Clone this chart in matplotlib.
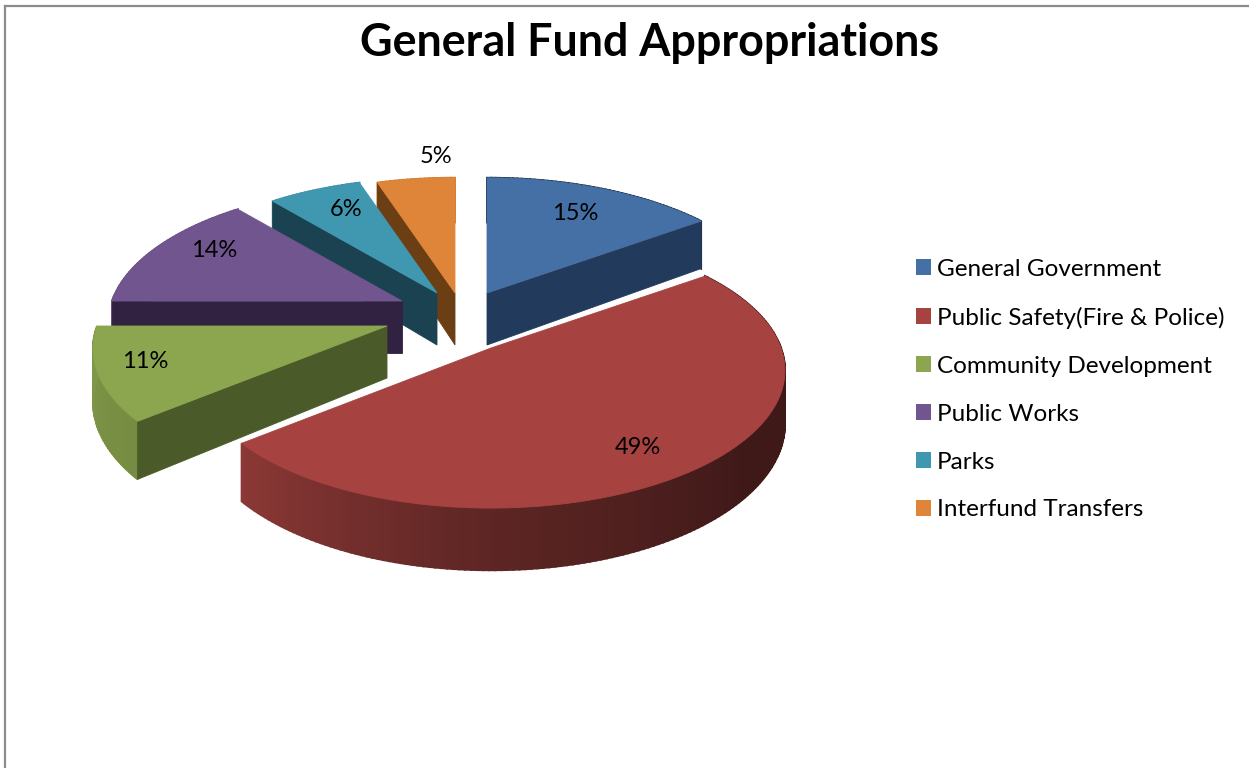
import numpy as np
import matplotlib
matplotlib.use("Agg")
import matplotlib.pyplot as plt
from matplotlib.patches import Patch, Polygon

categories = ["General Government", "Public Safety(Fire & Police)", "Community Development",
              "Public Works", "Parks", "Interfund Transfers"]
shares = [15, 49, 11, 14, 6, 5]
title = "General Fund Appropriations"

top_colors = ["#4470A6", "#A64340", "#8BA64E", "#71558E", "#4098B0", "#DE8539"]
side_colors = ["#223A5B", "#6E2A27", "#4A5A28", "#302240", "#1A4250", "#6B3E14"]

# Pie layout in pixel-like units: flattened disc with a slight perspective.
PIE_X, PIE_Y = 487, 293
RX, RY = 290, 134
PERSPECTIVE = 0.163
DEPTH = 52
explode = [(0, 0), (4, 55), (-100, 33), (-85, 8), (-50, 0), (-32, 0)]
draw_order = [5, 4, 0, 3, 2, 1]
label_spots = [(0.74, 0.5), (0.80, 0.52), (0.84, 0.55), (0.80, 0.6), (0.78, 0.6), (1.22, 0.8)]

plt.rcParams["font.family"] = ["Lato", "DejaVu Sans"]
fig = plt.figure(figsize=(12.49, 7.68), dpi=100)
ax = fig.add_axes([0, 0, 1, 1])
ax.set_xlim(0, 1249)
ax.set_ylim(768, 0)
ax.axis("off")


def project(theta, radius, center, drop=0.0):
    """Map a polar position on the disc to the page; theta runs clockwise from the top."""
    u = radius * np.sin(theta)
    v = -radius * np.cos(theta)
    s = 1.0 / (1.0 - PERSPECTIVE * v)
    return center[0] + RX * u * s, center[1] + RY * v * s + drop * s


def shade(color, factor):
    rgb = np.array(matplotlib.colors.to_rgb(color))
    return tuple(np.clip(rgb * factor, 0, 1))


def arc_wall_factor(theta):
    # Outer wall is lit from the left and falls into shadow on the right.
    return np.interp(np.degrees(theta), [130, 180, 230, 270], [0.38, 0.56, 0.84, 0.92])


def quad(points, color, z, width=0.6):
    ax.add_patch(Polygon(points, closed=True, facecolor=color, edgecolor=color,
                         linewidth=width, zorder=z))


edges = np.concatenate([[0], np.cumsum(shares)]) / sum(shares) * 2 * np.pi

z = 2.0
for i in draw_order:
    a0, a1 = edges[i], edges[i + 1]
    center = (PIE_X + explode[i][0], PIE_Y + explode[i][1])
    arc = np.linspace(a0, a1, max(int(np.degrees(a1 - a0)), 4) + 1)

    # Outer wall, built from short strips so the shading can vary along the arc.
    for t0, t1 in zip(arc[:-1], arc[1:]):
        f = arc_wall_factor(0.5 * (t0 + t1))
        pts = [project(t0, 1, center), project(t1, 1, center),
               project(t1, 1, center, DEPTH), project(t0, 1, center, DEPTH)]
        quad(pts, shade(top_colors[i], f), z, width=1.4)
        z += 0.0001
    z += 0.01

    # Radial cut faces, only where the cut looks toward the viewer.
    for t, sign in ((a0, -1), (a1, 1)):
        if sign * np.sin(t) > 1e-6:
            pts = [project(t, 0, center), project(t, 1, center),
                   project(t, 1, center, DEPTH), project(t, 0, center, DEPTH)]
            quad(pts, side_colors[i], z)
    z += 0.01

    # Top face.
    rim = [project(t, 1, center) for t in arc]
    quad([project(0, 0, center)] + rim, top_colors[i], z)
    z += 0.01

# Percentage labels sit on their slices; the last one is placed just outside.
for i, (value, (radial, along)) in enumerate(zip(shares, label_spots)):
    center = (PIE_X + explode[i][0], PIE_Y + explode[i][1])
    theta = edges[i] + along * (edges[i + 1] - edges[i])
    x, y = project(theta, radial, center)
    ax.text(x, y, f"{value}%", fontsize=17, color="black", ha="center", va="center", zorder=10)

ax.text(650, 43, title, fontsize=32.3, fontweight="bold", color="black",
        ha="center", va="center", zorder=10)

handles = [Patch(facecolor=c, edgecolor=c, linewidth=0) for c in top_colors]
ax.legend(handles, categories, loc="upper left", bbox_to_anchor=(916, 258.5),
          bbox_transform=ax.transData, frameon=False, fontsize=17.5,
          handlelength=0.62, handleheight=0.62, handletextpad=0.25, labelspacing=1.11,
          borderpad=0, borderaxespad=0)

# Chart frame: only the top and left rules fall on the page.
frame = dict(color="#8C8C8C", linewidth=1.6, zorder=1)
ax.plot([5.5, 1249], [5.5, 5.5], **frame)
ax.plot([5.5, 5.5], [5.5, 768], **frame)

fig.savefig("out.png", dpi=100, facecolor="white")
